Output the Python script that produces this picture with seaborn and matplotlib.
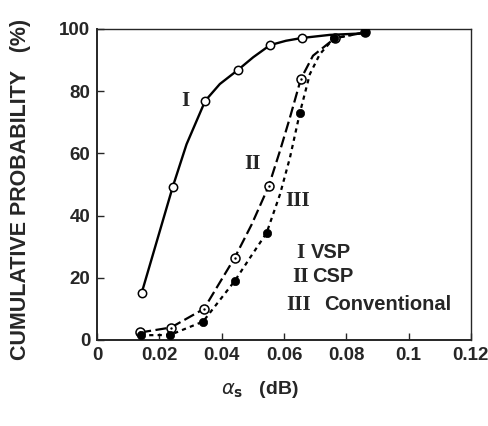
import matplotlib
matplotlib.use("Agg")
import matplotlib.pyplot as plt
import seaborn as sns

# values
# measured points (markers)
x_vsp = [0.0143, 0.0243, 0.0347, 0.0453, 0.0555, 0.0657]
y_vsp = [15.1, 49.3, 76.9, 86.9, 94.8, 97.1]
x_csp = [0.0138, 0.0237, 0.0343, 0.0442, 0.0551, 0.0654, 0.0763, 0.0860]
y_csp = [2.4, 4.0, 10.0, 26.5, 49.5, 83.9, 97.0, 98.9]
x_conv = [0.0140, 0.0234, 0.0340, 0.0442, 0.0544, 0.0651, 0.0760, 0.0860]
y_conv = [1.5, 1.6, 5.9, 19.0, 34.4, 73.1, 97.0, 98.9]

# hand-drawn fitted curves
cx_vsp = [0.0143, 0.0243, 0.0287, 0.0347, 0.0394, 0.0453, 0.0501, 0.0555,
          0.0606, 0.0657, 0.0747, 0.0859]
cy_vsp = [15.1, 49.3, 62.9, 76.9, 82.3, 86.9, 90.9, 94.8, 96.2, 97.1, 98.1, 98.6]
cx_csp = [0.0138, 0.0237, 0.0343, 0.0442, 0.0496, 0.0551, 0.0587, 0.0619,
          0.0654, 0.0693, 0.0763, 0.0860]
cy_csp = [2.4, 4.0, 10.0, 26.5, 37.1, 49.5, 60.8, 71.5, 83.9, 91.4, 97.0, 98.9]
cx_conv = [0.0140, 0.0234, 0.0340, 0.0442, 0.0490, 0.0544, 0.0587, 0.0619,
           0.0651, 0.0683, 0.0715, 0.0760, 0.0860]
cy_conv = [1.5, 1.6, 5.9, 19.0, 26.3, 34.4, 46.8, 58.6, 73.1, 85.5, 91.9, 97.0, 98.9]

x_ticks = [0, 0.02, 0.04, 0.06, 0.08, 0.1, 0.12]
x_ticklabels = ["0", "0.02", "0.04", "0.06", "0.08", "0.1", "0.12"]
y_ticks = [0, 20, 40, 60, 80, 100]

legend_numerals = ["I", "II", "III"]
legend_names = ["VSP", "CSP", "Conventional"]

sns.set_style("ticks")
plt.rcParams['font.family'] = ['Liberation Sans', 'DejaVu Sans']

fig = plt.figure(figsize=(4.88, 4.26), dpi=100)
ax = fig.add_axes([0.199, 0.202, 0.766, 0.730])

# curves
sns.lineplot(x=cx_vsp, y=cy_vsp, ax=ax, color="black", linewidth=1.7, sort=False)
sns.lineplot(x=cx_csp, y=cy_csp, ax=ax, color="black", linewidth=1.6, sort=False,
             linestyle=(0, (5, 2)))
sns.lineplot(x=cx_conv, y=cy_conv, ax=ax, color="black", linewidth=1.6, sort=False,
             linestyle=(0, (1.9, 1.9)))

# markers
sns.scatterplot(x=x_vsp, y=y_vsp, ax=ax, marker="o", s=36, facecolor="white",
                edgecolor="black", linewidth=1.1, zorder=3)
sns.scatterplot(x=x_csp, y=y_csp, ax=ax, marker="o", s=42, facecolor="white",
                edgecolor="black", linewidth=1.1, zorder=3)
sns.scatterplot(x=x_csp, y=y_csp, ax=ax, marker="o", s=3, color="black",
                linewidth=0, zorder=4)
sns.scatterplot(x=x_conv, y=y_conv, ax=ax, marker="o", s=36, color="black",
                edgecolor="black", linewidth=0.5, zorder=3)

ax.set_xlim(0, 0.12)
ax.set_ylim(0, 100)
ax.set_xticks(x_ticks)
ax.set_xticklabels(x_ticklabels)
ax.set_yticks(y_ticks)
ax.tick_params(direction="in", length=5, width=1, labelsize=13.5, pad=5)
for lab in ax.get_xticklabels() + ax.get_yticklabels():
    lab.set_fontweight("bold")
for side in ax.spines.values():
    side.set_linewidth(1.4)
    side.set_visible(True)
ax.spines["top"].set_linewidth(1.0)
ax.spines["right"].set_linewidth(1.0)

ax.set_ylabel("CUMULATIVE PROBABILITY   (%)", fontsize=15.5, fontweight="bold")
ax.yaxis.set_label_coords(-0.178, 0.483)
ax.set_xlabel(r"$\alpha_\mathbf{s}$   (dB)", fontsize=14, fontweight="bold")
ax.xaxis.set_label_coords(0.436, -0.125)

serif = ['Liberation Serif', 'DejaVu Serif']
ax.text(0.0282, 76.9, "I", family=serif, fontweight="bold", fontsize=15,
        ha="center", va="center")
ax.text(0.0500, 56.5, "II", family=serif, fontweight="bold", fontsize=15,
        ha="center", va="center")
ax.text(0.0644, 44.6, "III", family=serif, fontweight="bold", fontsize=15,
        ha="center", va="center")

leg_y = [28.0, 20.4, 11.3]
num_x = [0.0654, 0.0654, 0.0648]
name_x = [0.0686, 0.0689, 0.0728]
for num, name, yy, nx, tx in zip(legend_numerals, legend_names, leg_y, num_x, name_x):
    ax.text(nx, yy, num, family=serif, fontweight="bold", fontsize=15,
            ha="center", va="center")
    ax.text(tx, yy, name, fontweight="bold", fontsize=14.5,
            ha="left", va="center")

fig.savefig("out.png", dpi=100)
